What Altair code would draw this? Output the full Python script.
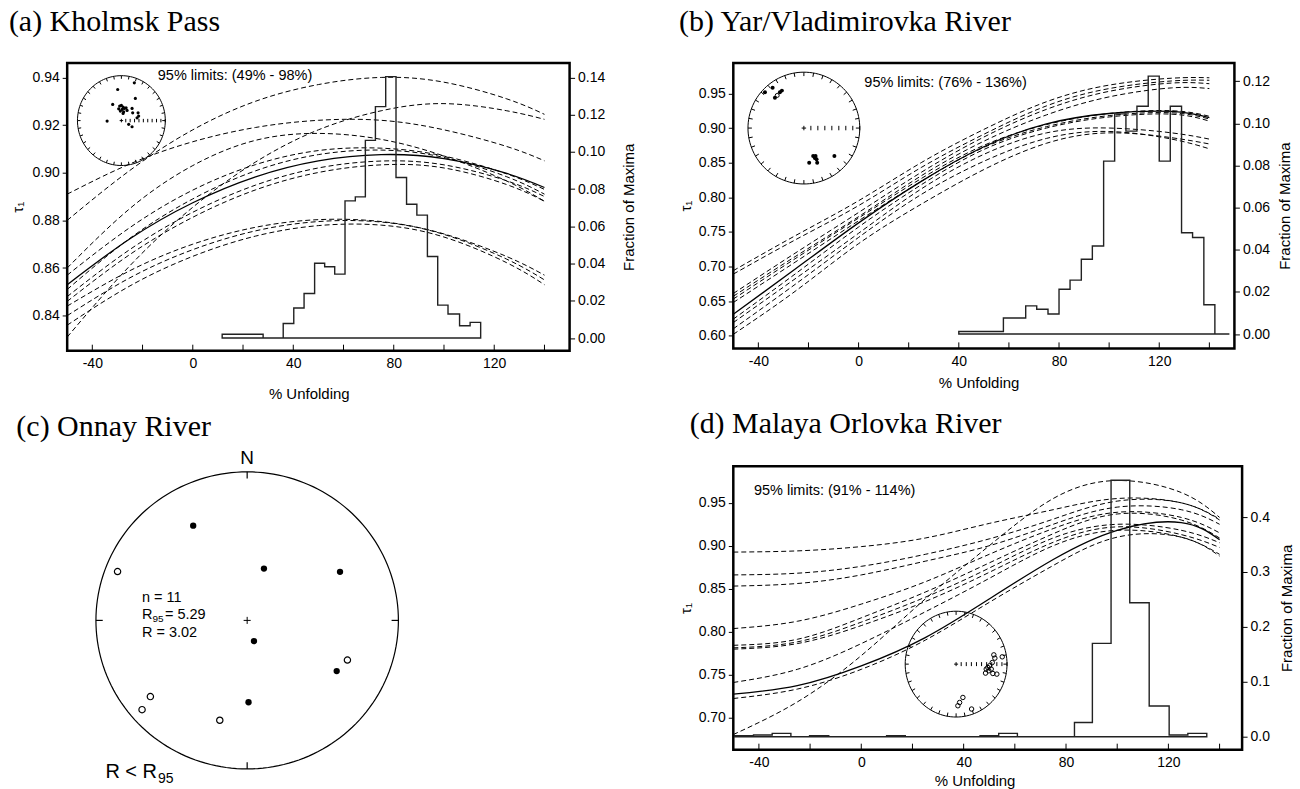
import altair as alt
import pandas as pd

FONT = "Liberation Sans"
SERIF = "Liberation Serif"

# ---------------- shared x positions ----------------
X_GRID = [-50, -25, 0, 25, 50, 75, 100, 125, 140]
X_MINOR = [-40, -20, 0, 20, 40, 60, 80, 100, 120, 140]
X_LABELS = [-40, 0, 40, 80, 120]
INSET_TICKS_10 = [0.1, 0.2, 0.3, 0.4, 0.5, 0.6, 0.7, 0.8, 0.9, 1.0]
INSET_TICKS_8 = [0.125, 0.25, 0.375, 0.5, 0.625, 0.75, 0.875, 1.0]

# ---------------- (a) Kholmsk Pass ----------------
A_DASHED = [
    [0.880, 0.901, 0.918, 0.930, 0.937, 0.940, 0.938, 0.931, 0.9245],
    [0.831, 0.861, 0.8855, 0.9045, 0.918, 0.926, 0.929, 0.926, 0.9224],
    [0.891, 0.9037, 0.913, 0.919, 0.922, 0.922, 0.918, 0.911, 0.905],
    [0.860, 0.885, 0.903, 0.9136, 0.9165, 0.914, 0.907, 0.8965, 0.888],
    [0.857, 0.877, 0.8927, 0.9034, 0.9093, 0.9103, 0.907, 0.8995, 0.893],
    [0.851, 0.8725, 0.889, 0.9008, 0.9076, 0.9095, 0.9064, 0.8983, 0.891],
    [0.848, 0.8678, 0.8834, 0.8948, 0.902, 0.9049, 0.9033, 0.8966, 0.890],
    [0.846, 0.8657, 0.8813, 0.8928, 0.9001, 0.9033, 0.902, 0.895, 0.888],
    [0.844, 0.8589, 0.870, 0.8771, 0.8803, 0.8795, 0.8743, 0.8648, 0.857],
    [0.840, 0.8559, 0.8677, 0.8756, 0.8795, 0.8793, 0.8741, 0.8637, 0.855],
    [0.836, 0.8525, 0.8649, 0.8734, 0.8778, 0.878, 0.873, 0.8622, 0.853],
]
A_SOLID = [0.853, 0.8723, 0.8874, 0.8983, 0.905, 0.9076, 0.9059, 0.8997, 0.8938]
A_HIST_X = [11.7, 28.0, 36.0, 40.2, 44.3, 48.5, 52.5, 56.5, 60.6, 64.7, 68.7,
            72.7, 76.8, 80.9, 85.1, 89.2, 93.4, 97.5, 101.6, 106.2, 110.4, 114.6]
A_HIST_F = [0.0020, 0.0, 0.0078, 0.0161, 0.0239, 0.0402, 0.0383, 0.0343, 0.0737,
            0.0758, 0.1062, 0.1243, 0.1404, 0.0862, 0.0719, 0.0660, 0.0438, 0.0177,
            0.0129, 0.0066, 0.0084, 0.0084]
A_INSET_U = [-0.084, 0.295, 0.318, -0.198, -0.039, 0.0, 0.039, -0.061, 0.016, 0.068,
             0.107, -0.023, 0.052, 0.130, 0.039, 0.243, 0.257, 0.380, 0.393, 0.357,
             -0.325, 0.166, 0.243]
A_INSET_V = [0.693, 0.84, 0.493, 0.36, 0.322, 0.338, 0.3, 0.262, 0.249, 0.271,
             0.284, 0.211, 0.196, 0.227, 0.16, 0.271, 0.173, 0.173, 0.1, 0.062,
             -0.011, -0.084, -0.138]

# ---------------- (b) Yar/Vladimirovka River ----------------
B_DASHED = [
    [0.694, 0.745, 0.795, 0.850, 0.898, 0.938, 0.962, 0.972, 0.9726],
    [0.689, 0.739, 0.788, 0.843, 0.891, 0.932, 0.957, 0.968, 0.969],
    [0.661, 0.720, 0.778, 0.836, 0.887, 0.927, 0.953, 0.965, 0.964],
    [0.657, 0.715, 0.772, 0.831, 0.881, 0.919, 0.945, 0.958, 0.957],
    [0.653, 0.712, 0.770, 0.827, 0.875, 0.905, 0.921, 0.925, 0.917],
    [0.648, 0.707, 0.766, 0.823, 0.872, 0.902, 0.918, 0.922, 0.913],
    [0.624, 0.690, 0.757, 0.818, 0.869, 0.900, 0.916, 0.920, 0.910],
    [0.619, 0.683, 0.748, 0.812, 0.862, 0.893, 0.900, 0.893, 0.884],
    [0.610, 0.675, 0.742, 0.804, 0.852, 0.885, 0.895, 0.884, 0.870],
    [0.602, 0.665, 0.733, 0.790, 0.840, 0.878, 0.893, 0.886, 0.877],
]
B_SOLID = [0.631, 0.697, 0.763, 0.823, 0.873, 0.906, 0.921, 0.924, 0.915]
B_HIST_X = [40.0, 57.8, 66.7, 71.1, 75.6, 80.0, 84.4, 88.9, 93.3, 97.8, 102.2,
            106.7, 111.1, 115.6, 120.0, 124.4, 128.9, 133.3, 137.8, 142.2, 148.0]
B_HIST_F = [0.0012, 0.0076, 0.0134, 0.0118, 0.0095, 0.0213, 0.0256, 0.0355, 0.0418,
            0.0821, 0.1045, 0.0963, 0.1081, 0.1224, 0.0821, 0.1081, 0.0481, 0.0458,
            0.0139, 0.0, 0.0]
B_INSET_U = [-0.696, -0.559, -0.518, -0.429, -0.393, 0.095, 0.166, 0.209, 0.227,
             0.238, 0.196, 0.546]
B_INSET_V = [0.643, 0.72, 0.541, 0.643, 0.67, -0.62, -0.5, -0.5, -0.559, -0.62,
             -0.536, -0.5]
B_INSET_OPEN_U = [-0.477]
B_INSET_OPEN_V = [0.584]

# ---------------- (c) Onnay River ----------------
C_FILLED_U = [-0.357, 0.111, 0.614, 0.045, 0.592, 0.009]
C_FILLED_V = [0.638, 0.349, 0.327, -0.139, -0.341, -0.551]
C_OPEN_U = [-0.857, 0.663, -0.640, -0.695, -0.181]
C_OPEN_V = [0.329, -0.267, -0.513, -0.601, -0.672]

# ---------------- (d) Malaya Orlovka River ----------------
D_DASHED = [
    [0.680, 0.718, 0.772, 0.838, 0.900, 0.955, 0.976, 0.962, 0.933],
    [0.8926, 0.894, 0.899, 0.909, 0.926, 0.942, 0.955, 0.950, 0.931],
    [0.866, 0.868, 0.876, 0.890, 0.908, 0.931, 0.952, 0.950, 0.930],
    [0.853, 0.856, 0.866, 0.882, 0.900, 0.925, 0.945, 0.942, 0.925],
    [0.8035, 0.812, 0.832, 0.858, 0.890, 0.920, 0.939, 0.933, 0.915],
    [0.784, 0.791, 0.816, 0.846, 0.880, 0.914, 0.937, 0.930, 0.909],
    [0.781, 0.788, 0.811, 0.840, 0.874, 0.909, 0.925, 0.918, 0.9035],
    [0.7795, 0.786, 0.807, 0.835, 0.869, 0.904, 0.922, 0.913, 0.898],
    [0.7407, 0.756, 0.786, 0.823, 0.862, 0.900, 0.918, 0.910, 0.890],
    [0.722, 0.733, 0.756, 0.790, 0.834, 0.877, 0.910, 0.910, 0.888],
]
D_SOLID = [0.7271, 0.737, 0.760, 0.793, 0.838, 0.884, 0.918, 0.927, 0.907]
D_HIST_X = [-49.4, -42.1, -34.8, -27.5, -20.2, -12.7, 9.9, 17.2, 46.4, 53.7, 61.0,
            83.3, 90.3, 97.6, 104.9, 112.5, 120.3, 127.6, 135.0]
D_HIST_F = [0.002, 0.003, 0.006, 0.0, 0.002, 0.0, 0.002, 0.0, 0.002, 0.006, 0.0,
            0.026, 0.170, 0.467, 0.244, 0.056, 0.003, 0.006, 0.006]
D_INSET_U = [0.741, 0.761, 0.906, 0.710, 0.657, 0.624, 0.592, 0.578, 0.643, 0.690,
             0.722, 0.800, 0.035, 0.069, 0.133, 0.304]
D_INSET_V = [0.175, 0.113, 0.138, 0.030, -0.032, -0.064, -0.094, -0.170, -0.126,
             -0.094, -0.177, -0.189, -0.787, -0.725, -0.630, -0.849]


def lines_df(curves):
    return pd.DataFrame([{"id": i, "x": x, "y": y}
                         for i, c in enumerate(curves) for x, y in zip(X_GRID, c)])


def text_layer(t, x, y, size, font=FONT, align="left", baseline="middle"):
    return alt.Chart(pd.DataFrame({"t": [t]})).mark_text(
        font=font, fontSize=size, align=align, baseline=baseline, color="black"
    ).encode(text="t:N", x=alt.value(x), y=alt.value(y))


def inset_layers(us, vs, u, v, open_u, open_v, dot_size, open_dots, ticks, tick_size):
    ring = alt.Chart(alt.sequence(0, 363, 3, as_="a")).transform_calculate(
        u="cos(datum.a*PI/180)", v="sin(datum.a*PI/180)"
    ).mark_line(color="black", strokeWidth=1).encode(
        x=alt.X("u:Q", scale=us, axis=None), y=alt.Y("v:Q", scale=vs, axis=None),
        order="a:Q")
    rim = alt.Chart(alt.sequence(0, 360, 10, as_="a")).transform_calculate(
        u1="cos(datum.a*PI/180)", v1="sin(datum.a*PI/180)",
        u2="0.93*cos(datum.a*PI/180)", v2="0.93*sin(datum.a*PI/180)"
    ).mark_rule(color="black", strokeWidth=1).encode(
        x=alt.X("u1:Q", scale=us, axis=None), y=alt.Y("v1:Q", scale=vs, axis=None),
        x2="u2:Q", y2="v2:Q")
    row = alt.Chart(pd.DataFrame({"u": ticks, "v": [0.0] * len(ticks)})).mark_point(
        shape="M 0 -1 L 0 1", filled=False, color="black", strokeWidth=1,
        opacity=1, size=tick_size).encode(
        x=alt.X("u:Q", scale=us, axis=None), y=alt.Y("v:Q", scale=vs, axis=None))
    plus = alt.Chart(pd.DataFrame({"u": [0.0], "v": [0.0]})).mark_point(
        shape="M -1 0 L 1 0 M 0 -1 L 0 1", filled=False, color="black",
        strokeWidth=1, opacity=1, size=tick_size).encode(
        x=alt.X("u:Q", scale=us, axis=None), y=alt.Y("v:Q", scale=vs, axis=None))
    if open_dots:
        dots = alt.Chart(pd.DataFrame({"u": u, "v": v})).mark_point(
            shape="circle", filled=False, color="black", strokeWidth=1,
            opacity=1, size=dot_size).encode(
            x=alt.X("u:Q", scale=us, axis=None), y=alt.Y("v:Q", scale=vs, axis=None))
    else:
        dots = alt.Chart(pd.DataFrame({"u": u, "v": v})).mark_circle(
            color="black", opacity=1, size=dot_size).encode(
            x=alt.X("u:Q", scale=us, axis=None), y=alt.Y("v:Q", scale=vs, axis=None))
    out = [ring, rim, row, plus, dots]
    if open_u:
        out.append(alt.Chart(pd.DataFrame({"u": open_u, "v": open_v})).mark_point(
            shape="circle", filled=False, color="black", strokeWidth=1,
            opacity=1, size=dot_size).encode(
            x=alt.X("u:Q", scale=us, axis=None), y=alt.Y("v:Q", scale=vs, axis=None)))
    return out


def make_panel(P):
    W, H = P["W"], P["H"]
    xs = alt.Scale(domain=P["xdom"], nice=False, zero=False)
    ys = alt.Scale(domain=P["ydom"], nice=False, zero=False)
    fs = alt.Scale(domain=P["fdom"], nice=False, zero=False)
    us = alt.Scale(domain=[-1, 1], range=[P["icx"] - P["irx"], P["icx"] + P["irx"]],
                   nice=False, zero=False)
    vs = alt.Scale(domain=[-1, 1], range=[P["icy"] + P["iry"], P["icy"] - P["iry"]],
                   nice=False, zero=False)

    x_axis = alt.Axis(values=X_LABELS, labelExpr="'' + datum.value", tickSize=0,
                      labelPadding=13, labelBaseline="middle", title="% Unfolding",
                      titleX=P["xtx"], titleY=P["xty"], titleBaseline="middle")
    y_axis = alt.Axis(values=P["yvals"], format=".2f", tickSize=5, labelPadding=3,
                      title="τ₁", titleAngle=270, titleX=P["ytx"], titleY=H / 2,
                      titleBaseline="middle")
    f_axis = alt.Axis(orient="right", values=P["fvals"], format=P["ffmt"], tickSize=5,
                      labelPadding=3, title="Fraction of Maxima", titleAngle=270,
                      titleX=P["ftx"], titleY=H / 2, titleBaseline="middle")

    dashed = alt.Chart(lines_df(P["dashed"])).mark_line(
        color="black", strokeWidth=1, strokeDash=[5, 3], interpolate="natural"
    ).encode(x=alt.X("x:Q", scale=xs, axis=x_axis),
             y=alt.Y("y:Q", scale=ys, axis=y_axis), detail="id:N")
    solid = alt.Chart(pd.DataFrame({"x": X_GRID, "y": P["solid"]})).mark_line(
        color="black", strokeWidth=1.3, interpolate="natural"
    ).encode(x=alt.X("x:Q", scale=xs, axis=None), y=alt.Y("y:Q", scale=ys, axis=None))
    hist = alt.Chart(pd.DataFrame({"x": P["hx"], "f": P["hf"]})).mark_area(
        interpolate="step-after", fillOpacity=0, stroke="#222", strokeWidth=1.4
    ).encode(x=alt.X("x:Q", scale=xs, axis=None), y=alt.Y("f:Q", scale=fs, axis=f_axis))
    minor = alt.Chart(pd.DataFrame({"x": X_MINOR})).mark_rule(
        color="black", strokeWidth=1
    ).encode(x=alt.X("x:Q", scale=xs, axis=None), y=alt.value(H), y2=alt.value(H - 6))
    frame = alt.Chart(pd.DataFrame({"k": [0]})).mark_rect(
        fillOpacity=0, stroke="black", strokeWidth=2.5
    ).encode(x=alt.value(0), x2=alt.value(W), y=alt.value(0), y2=alt.value(H))

    layers = [dashed, solid, hist, minor]
    layers += inset_layers(us, vs, P["iu"], P["iv"], P.get("iou", []), P.get("iov", []),
                           P["isize"], P["iopen"], P["iticks"], P["itsize"])
    layers += [
        text_layer(P["limits"], P["lx"], P["ly"], 14.5),
        text_layer(P["title"], P["tx"], P["ty"], 30, font=SERIF, baseline="alphabetic"),
        frame,
    ]
    return alt.layer(*layers).resolve_scale(x="independent", y="independent").properties(
        width=W, height=H)


panel_a = make_panel(dict(
    W=503.3, H=288.3, xdom=[-50, 150], ydom=[0.8253, 0.9461], fdom=[-0.0068, 0.1478],
    yvals=[0.84, 0.86, 0.88, 0.90, 0.92, 0.94],
    fvals=[0.0, 0.02, 0.04, 0.06, 0.08, 0.10, 0.12, 0.14], ffmt=".2f",
    xtx=242, xty=43, ytx=-50, ftx=59,
    dashed=A_DASHED, solid=A_SOLID, hx=A_HIST_X, hf=A_HIST_F,
    icx=54.3, icy=57.8, irx=44, iry=45, iu=A_INSET_U, iv=A_INSET_V, isize=10,
    iopen=False, iticks=INSET_TICKS_10, itsize=12,
    limits="95% limits: (49% - 98%)", lx=90.8, ly=13.3,
    title="(a) Kholmsk Pass", tx=-58.4, ty=-32.4,
))

panel_b = make_panel(dict(
    W=502, H=286, xdom=[-50, 150], ydom=[0.5817, 0.9941], fdom=[-0.0068, 0.1287],
    yvals=[0.60, 0.65, 0.70, 0.75, 0.80, 0.85, 0.90, 0.95],
    fvals=[0.0, 0.02, 0.04, 0.06, 0.08, 0.10, 0.12], ffmt=".2f",
    xtx=245.7, xty=34, ytx=-47.9, ftx=50,
    dashed=B_DASHED, solid=B_SOLID, hx=B_HIST_X, hf=B_HIST_F,
    icx=70.7, icy=65.3, irx=56, iry=56, iu=B_INSET_U, iv=B_INSET_V,
    iou=B_INSET_OPEN_U, iov=B_INSET_OPEN_V, isize=16,
    iopen=False, iticks=INSET_TICKS_8, itsize=20,
    limits="95% limits: (76% - 136%)", lx=131.3, ly=20,
    title="(b) Yar/Vladimirovka River", tx=-54.3, ty=-32.4,
))

panel_d = make_panel(dict(
    W=509.7, H=284, xdom=[-50, 148.8], ydom=[0.6624, 0.9927], fdom=[-0.0236, 0.4927],
    yvals=[0.70, 0.75, 0.80, 0.85, 0.90, 0.95],
    fvals=[0.0, 0.1, 0.2, 0.3, 0.4], ffmt=".1f",
    xtx=241.7, xty=31, ytx=-48.3, ftx=44.5,
    dashed=D_DASHED, solid=D_SOLID, hx=D_HIST_X, hf=D_HIST_F,
    icx=223.2, icy=198.3, irx=51, iry=53, iu=D_INSET_U, iv=D_INSET_V, isize=20,
    iopen=True, iticks=INSET_TICKS_10, itsize=16,
    limits="95% limits: (91% - 114%)", lx=20.7, ly=25,
    title="(d) Malaya Orlovka River", tx=-43.7, ty=-33.3,
))

# ---------------- (c) equal-area net ----------------
cu = alt.Scale(domain=[-1, 1], range=[28.8, 331.8], nice=False, zero=False)
cv = alt.Scale(domain=[-1, 1], range=[303.3, 5.7], nice=False, zero=False)
c_ring = alt.Chart(alt.sequence(0, 362, 2, as_="a")).transform_calculate(
    u="cos(datum.a*PI/180)", v="sin(datum.a*PI/180)"
).mark_line(color="black", strokeWidth=1.2).encode(
    x=alt.X("u:Q", scale=cu, axis=None), y=alt.Y("v:Q", scale=cv, axis=None), order="a:Q")
c_ticks = alt.Chart(pd.DataFrame({
    "u1": [0, 0, 1, -1], "v1": [1, -1, 0, 0],
    "u2": [0, 0, 0.955, -0.955], "v2": [0.955, -0.955, 0, 0]})).mark_rule(
    color="black", strokeWidth=1.2).encode(
    x=alt.X("u1:Q", scale=cu, axis=None), y=alt.Y("v1:Q", scale=cv, axis=None),
    x2="u2:Q", y2="v2:Q")
c_plus = alt.Chart(pd.DataFrame({"u": [0.0], "v": [0.0]})).mark_point(
    shape="M -1 0 L 1 0 M 0 -1 L 0 1", filled=False, color="black", strokeWidth=1,
    opacity=1, size=50).encode(
    x=alt.X("u:Q", scale=cu, axis=None), y=alt.Y("v:Q", scale=cv, axis=None))
c_filled = alt.Chart(pd.DataFrame({"u": C_FILLED_U, "v": C_FILLED_V})).mark_circle(
    color="black", opacity=1, size=40).encode(
    x=alt.X("u:Q", scale=cu, axis=None), y=alt.Y("v:Q", scale=cv, axis=None))
c_open = alt.Chart(pd.DataFrame({"u": C_OPEN_U, "v": C_OPEN_V})).mark_point(
    shape="circle", filled=False, color="black", strokeWidth=1.2, opacity=1,
    size=40).encode(
    x=alt.X("u:Q", scale=cu, axis=None), y=alt.Y("v:Q", scale=cv, axis=None))

panel_c = alt.layer(
    c_ring, c_ticks, c_plus, c_filled, c_open,
    text_layer("N", 180.3, -8.3, 19, align="center"),
    text_layer("n = 11", 75, 131.7, 14.5),
    text_layer("R", 75, 149.3, 14.5),
    text_layer("95", 85.5, 153, 10),
    text_layer("= 5.29", 98, 149.3, 14.5),
    text_layer("R = 3.02", 75, 166.7, 14.5),
    text_layer("R < R", 38.3, 306.7, 20),
    text_layer("95", 91, 313, 14),
    text_layer("(c) Onnay River", -50.9, -30, 30, font=SERIF, baseline="alphabetic"),
).properties(width=361, height=310)

chart = alt.concat(
    panel_a, panel_b, panel_c, panel_d, columns=2,
    spacing={"row": 115, "column": 163.3}, bounds="flush",
).properties(
    padding={"left": 8.3, "top": 5.3, "right": 5, "bottom": 5}
).configure_axis(
    labelFont=FONT, labelFontSize=14, titleFont=FONT, titleFontSize=15,
    titleFontWeight="normal", labelColor="black", titleColor="black",
    tickColor="black", tickWidth=1, grid=False, domain=False,
).configure_view(stroke="transparent")

chart.save("out.html", embed_options={"renderer": "svg", "actions": False})
